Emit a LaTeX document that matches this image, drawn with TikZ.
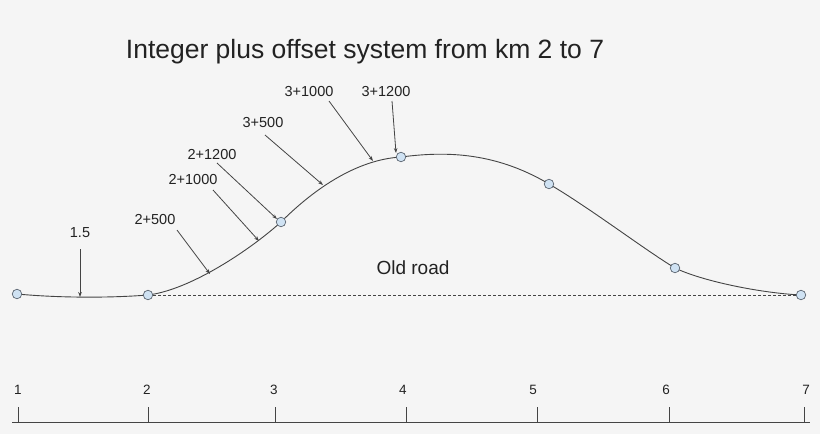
\documentclass[tikz,border=0pt]{standalone}
\usepackage{fontspec}
\setmainfont{Liberation Sans}
\usetikzlibrary{arrows.meta}
\definecolor{bg}{HTML}{F5F5F5}
\definecolor{ink}{HTML}{222222}
\definecolor{linec}{HTML}{444444}
\definecolor{dotfill}{HTML}{CFE2F3}
\definecolor{dotline}{HTML}{5A6470}
\tikzset{
  dot/.style={circle,draw=dotline,fill=dotfill,line width=0.7pt,minimum size=9.5pt,inner sep=0pt},
  lbl/.style={text=ink,inner sep=0pt,font=\fontsize{14.5}{17}\selectfont},
  axlbl/.style={text=ink,inner sep=0pt,font=\fontsize{13.5}{16}\selectfont},
  ptr/.style={draw=linec,line width=0.8pt,-{Stealth[length=5pt,width=3.6pt]}},
  road/.style={draw=linec,line width=0.9pt},
  ticks/.style={draw=linec,line width=0.8pt}
}
\begin{document}
\begin{tikzpicture}[x=1pt,y=-1pt]
\fill[bg] (0,0) rectangle (820,434);
\useasboundingbox (0,0) rectangle (820,434);
% title
\node[text=ink,inner sep=0pt,font=\fontsize{26.5}{30}\selectfont] (title) at (365,52) {Integer plus offset system from km 2 to 7};
% station points
\coordinate (c1) at (17,294);
\coordinate (c2) at (148,295);
\coordinate (c3) at (281,222);
\coordinate (c4) at (401,157);
\coordinate (c5) at (549,184);
\coordinate (c6) at (675,268);
\coordinate (c7) at (801,295);
% road curve
\draw[road] (c1)
  .. controls (60,298) and (110,298) .. (c2)
  .. controls (190,290) and (250,250) .. (c3)
  .. controls (305,198) and (350,160) .. (c4)
  .. controls (440,152) and (492,150) .. (c5)
  .. controls (590,208) and (645,250) .. (c6)
  .. controls (702,281) and (760,293) .. (c7);
% dashed old road
\draw[draw=linec,line width=0.6pt,dash pattern=on 3pt off 2pt] (c2) -- (c7);
% circles
\node[dot] (p1) at (c1) {};
\node[dot] (p2) at (c2) {};
\node[dot] (p3) at (c3) {};
\node[dot] (p4) at (c4) {};
\node[dot] (p5) at (c5) {};
\node[dot] (p6) at (c6) {};
\node[dot] (p7) at (c7) {};
\node[lbl,font=\fontsize{19}{22}\selectfont] (old) at (413,268) {Old road};
% pointer labels
\node[lbl] (l15) at (80,233) {1.5};
\node[lbl] (l2a) at (155,220) {2+500};
\node[lbl] (l2b) at (193,180) {2+1000};
\node[lbl] (l2c) at (212,155) {2+1200};
\node[lbl] (l3a) at (263,123) {3+500};
\node[lbl] (l3b) at (309,92) {3+1000};
\node[lbl] (l3c) at (386,92) {3+1200};
% pointer starts and tips
\coordinate (s15) at (80,249);   \coordinate (t15) at (80,297);
\coordinate (s2a) at (177,230);  \coordinate (t2a) at (210,274);
\coordinate (s2b) at (213,190);  \coordinate (t2b) at (259,241);
\coordinate (s2c) at (217,163);  \coordinate (t2c) at (277,219);
\coordinate (s3a) at (265,135);  \coordinate (t3a) at (323,185);
\coordinate (s3b) at (329,101);  \coordinate (t3b) at (373,161);
\coordinate (s3c) at (392,101);  \coordinate (t3c) at (396,153);
\draw[ptr] (s15) -- (t15);
\draw[ptr] (s2a) -- (t2a);
\draw[ptr] (s2b) -- (t2b);
\draw[ptr] (s2c) -- (t2c);
\draw[ptr] (s3a) -- (t3a);
\draw[ptr] (s3b) -- (t3b);
\draw[ptr] (s3c) -- (t3c);
% axis
\coordinate (a0) at (12,422);
\coordinate (a1) at (810,422);
\draw[ticks] (a0) -- (a1);
\foreach \n/\x/\lx in {1/18/18,2/148/147,3/275/274,4/406/403,5/537/533,6/669/666,7/804/806}{
  \coordinate (tk\n) at (\x,407);
  \coordinate (tb\n) at (\x,422);
  \draw[ticks] (tk\n) -- (tb\n);
  \node[axlbl] (ax\n) at (\lx,390) {\n};
}
\end{tikzpicture}
\end{document}
